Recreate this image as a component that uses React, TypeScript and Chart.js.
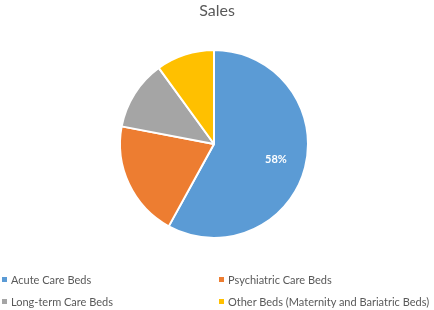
import React, { useEffect, useRef } from "react";
import { Chart, registerables } from "chart.js";

Chart.register(...registerables);

const title = "Sales";
const categories = [
  "Acute Care Beds",
  "Psychiatric Care Beds",
  "Long-term Care Beds",
  "Other Beds (Maternity and Bariatric Beds)",
];
const values = [58, 20, 12, 10];
const colors = ["#5B9BD5", "#ED7D31", "#A5A5A5", "#FFC000"];
const shownLabels = [true, false, false, false];

const FONT = "Lato, 'Open Sans', sans-serif";

const labelPlugin = {
  id: "sliceLabels",
  afterDatasetsDraw(chart: any) {
    const ctx = chart.ctx;
    const meta = chart.getDatasetMeta(0);
    const total = values.reduce((a, b) => a + b, 0);
    ctx.save();
    ctx.fillStyle = "#ffffff";
    ctx.font = `bold 11px ${FONT}`;
    ctx.textAlign = "center";
    ctx.textBaseline = "middle";
    meta.data.forEach((arc: any, i: number) => {
      if (!shownLabels[i]) return;
      const { x, y, startAngle, endAngle, outerRadius } = arc.getProps(
        ["x", "y", "startAngle", "endAngle", "outerRadius"],
        true
      );
      const mid = (startAngle + endAngle) / 2;
      const r = outerRadius * 0.68;
      const pct = Math.round((values[i] / total) * 100) + "%";
      ctx.fillText(pct, x + Math.cos(mid) * r, y + Math.sin(mid) * r);
    });
    ctx.restore();
  },
};

export default function App() {
  const ref = useRef<HTMLCanvasElement | null>(null);
  useEffect(() => {
    if (!ref.current) return;
    const chart = new Chart(ref.current, {
      type: "pie",
      data: {
        labels: categories,
        datasets: [
          {
            data: values,
            backgroundColor: colors,
            borderColor: "#ffffff",
            borderWidth: 2,
            hoverOffset: 0,
            offset: 0,
          },
        ],
      },
      options: {
        animation: false,
        responsive: false,
        events: [],
        layout: { padding: { top: 49, bottom: 71, left: 119, right: 125 } },
        plugins: {
          legend: { display: false },
          tooltip: { enabled: false },
          title: { display: false },
        },
      },
      plugins: [labelPlugin],
    });
    return () => chart.destroy();
  }, []);

  const legendPos = [
    { left: 2, top: 279 },
    { left: 219, top: 279 },
    { left: 2, top: 301 },
    { left: 219, top: 301 },
  ];

  return (
    <div
      style={{
        position: "absolute",
        left: 0,
        top: 0,
        width: 434,
        height: 310,
        background: "#ffffff",
        fontFamily: FONT,
        overflow: "hidden",
      }}
    >
      <canvas ref={ref} width={434} height={310} style={{ position: "absolute", left: 0, top: 0 }} />
      <div
        style={{
          position: "absolute",
          left: 0,
          top: 0,
          width: 434,
          textAlign: "center",
          fontSize: 16,
          lineHeight: "20px",
          color: "#595959",
        }}
      >
        {title}
      </div>
      {categories.map((c, i) => (
        <div
          key={c}
          style={{
            position: "absolute",
            left: legendPos[i].left,
            top: legendPos[i].top - 7,
            height: 14,
            display: "flex",
            alignItems: "center",
            fontSize: 11,
            color: "#595959",
            whiteSpace: "nowrap",
          }}
        >
          <span
            style={{
              display: "inline-block",
              width: 5,
              height: 5,
              background: colors[i],
              marginRight: 4,
            }}
          />
          {c}
        </div>
      ))}
    </div>
  );
}
